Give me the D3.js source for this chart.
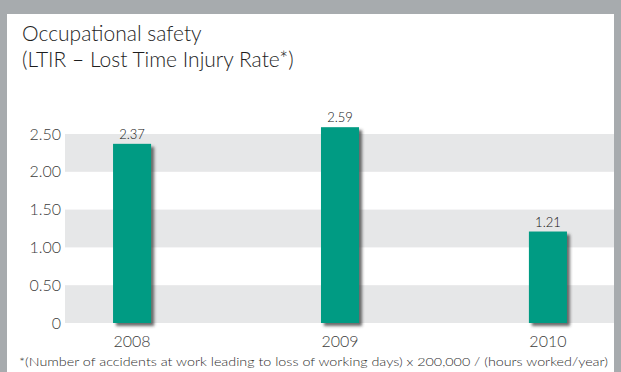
<!DOCTYPE html>
<html>
<head>
<meta charset="utf-8">
<script src="https://cdn.jsdelivr.net/npm/d3@7"></script>
<style>
  html, body { margin: 0; padding: 0; background: #a7abae; }
  svg { display: block; font-family: Lato, "Open Sans", sans-serif; font-weight: 300; }
</style>
</head>
<body>
<svg id="chart" width="621" height="372"></svg>
<script>
// values
var years = ['2008', '2009', '2010'];
var ltir = [2.37, 2.59, 1.21];
var yTicks = [0, 0.5, 1, 1.5, 2, 2.5];
var bandStarts = [0, 1, 2]; // shaded stripes start at these values, 0.5 tall

var svg = d3.select('#chart');

// white panel
svg.append('rect')
  .attr('x', 7).attr('y', 14)
  .attr('width', 607).attr('height', 372 - 14)
  .attr('fill', '#fff');

var defs = svg.append('defs');
var f = defs.append('filter').attr('id', 'shadow')
  .attr('x', '-30%').attr('y', '-10%').attr('width', '160%').attr('height', '130%');
f.append('feDropShadow')
  .attr('dx', 3).attr('dy', 3).attr('stdDeviation', 1.6)
  .attr('flood-color', '#3a3a3a').attr('flood-opacity', 0.75);

var y = d3.scaleLinear().domain([0, 2.5]).range([323, 134]);
var x = d3.scaleBand().domain(years).range([28, 652]).paddingInner(0.817).paddingOuter(0.409);
var plotLeft = 65, plotRight = 614;

// stripes
svg.append('g').selectAll('rect')
  .data(bandStarts)
  .join('rect')
  .attr('x', plotLeft)
  .attr('width', plotRight - plotLeft)
  .attr('y', function(d) { return y(d + 0.5); })
  .attr('height', function(d) { return y(d) - y(d + 0.5); })
  .attr('fill', '#e6e7e8');

// y axis labels
var yAxis = d3.axisLeft(y)
  .tickValues(yTicks)
  .tickSize(0)
  .tickPadding(0)
  .tickFormat(function(d) { return d === 0 ? '0' : d3.format('.2f')(d); });
var gy = svg.append('g').attr('transform', 'translate(61,0)').call(yAxis);
gy.select('.domain').remove();
gy.selectAll('text')
  .attr('fill', '#3c3c3c')
  .style('font-size', '16px')
  .style('font-family', 'Lato, sans-serif')
  .style('font-weight', 300);

// bars
svg.append('g').selectAll('rect')
  .data(ltir)
  .join('rect')
  .attr('x', function(d, i) { return x(years[i]); })
  .attr('width', x.bandwidth())
  .attr('y', function(d) { return y(d); })
  .attr('height', function(d) { return y(0) - y(d); })
  .attr('fill', '#009b83')
  .attr('filter', 'url(#shadow)');

// value labels
svg.append('g').selectAll('text')
  .data(ltir)
  .join('text')
  .attr('x', function(d, i) { return x(years[i]) + x.bandwidth() / 2; })
  .attr('y', function(d) { return y(d) - 5; })
  .attr('text-anchor', 'middle')
  .attr('fill', '#111')
  .style('font-size', '13px')
  .style('font-weight', 300)
  .text(function(d) { return d3.format('.2f')(d); });

// x axis labels
var xAxis = d3.axisBottom(x).tickSize(0).tickPadding(0);
var gx = svg.append('g').attr('transform', 'translate(0,335)').call(xAxis);
gx.select('.domain').remove();
gx.selectAll('text')
  .attr('fill', '#3c3c3c')
  .attr('dy', '0.72em')
  .style('font-size', '16px')
  .style('font-family', 'Lato, sans-serif')
  .style('font-weight', 300);

// title
var title = svg.append('text')
  .attr('x', 22).attr('y', 41)
  .attr('fill', '#1e1e1e')
  .style('font-size', '21px');
title.append('tspan').attr('x', 22).text('Occupational safety');
title.append('tspan').attr('x', 22).attr('dy', 26).text('(LTIR \u2013 Lost Time Injury Rate*)');

// footnote
svg.append('text')
  .attr('x', 19).attr('y', 366)
  .attr('fill', '#2e2e2e')
  .style('font-size', '12px')
  .attr('textLength', 589)
  .attr('lengthAdjust', 'spacingAndGlyphs')
  .text('*(Number of  accidents at work leading to loss of working days) x 200,000 / (hours worked/year)');
</script>
</body>
</html>
